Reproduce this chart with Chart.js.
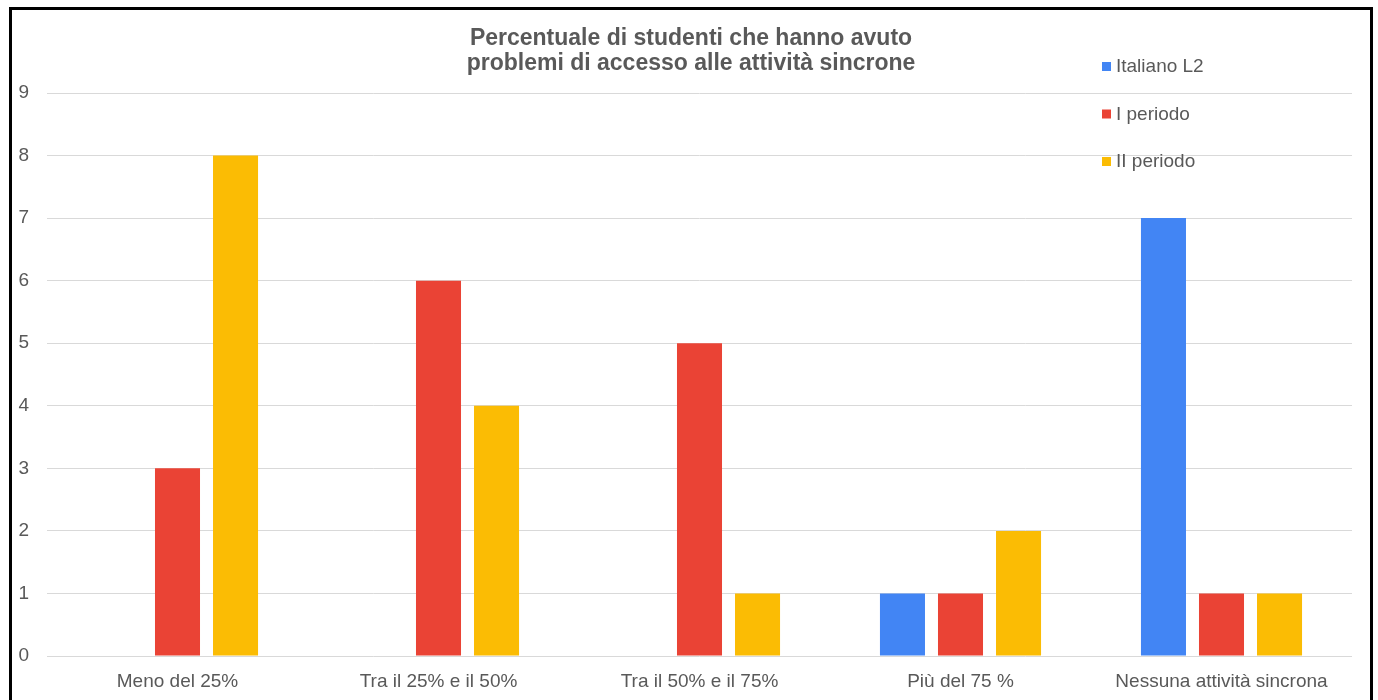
<!DOCTYPE html>
<html>
<head>
<meta charset="utf-8">
<script src="https://cdn.jsdelivr.net/npm/chart.js@4/dist/chart.umd.min.js"></script>
<style>
  html, body { margin: 0; padding: 0; background: #fff; overflow: hidden; }
  #wrap { position: relative; width: 1378px; height: 700px; }
  #frame {
    position: absolute; left: 9px; top: 7px; width: 1364px; height: 800px;
    box-sizing: border-box; border: 3px solid #000; pointer-events: none;
  }
  canvas { position: absolute; left: 0; top: 0; }
</style>
</head>
<body>
<div id="wrap">
  <canvas id="c" width="1378" height="700"></canvas>
  <div id="frame"></div>
</div>
<script>
const categories = ["Meno del 25%", "Tra il 25% e il 50%", "Tra il 50% e il 75%", "Più del 75 %", "Nessuna attività sincrona"];
const seriesNames = ["Italiano L2", "I periodo", "II periodo"];
const italianoL2 = [0, 0, 0, 1, 7];
const primoPeriodo = [3, 6, 5, 1, 1];
const secondoPeriodo = [8, 4, 1, 2, 1];
const seriesColors = ["#4285F4", "#EA4335", "#FBBC04"];
const titleLines = ["Percentuale di studenti che hanno avuto", "problemi di accesso alle attività sincrone"];

const textGray = "#595959";
const font = "'Liberation Sans', Arial, sans-serif";

// Two-line title centred on the whole frame
const frameTitle = {
  id: "frameTitle",
  afterDraw(chart) {
    const ctx = chart.ctx;
    ctx.save();
    ctx.font = "bold 23px " + font;
    ctx.fillStyle = textGray;
    ctx.textAlign = "center";
    ctx.textBaseline = "middle";
    titleLines.forEach((line, i) => ctx.fillText(line, 691, 38.6 + i * 25.3));
    ctx.restore();
  }
};

// Vertical legend drawn over the top-right of the plot
const sideLegend = {
  id: "sideLegend",
  afterDraw(chart) {
    const ctx = chart.ctx;
    ctx.save();
    ctx.font = "19px " + font;
    ctx.textBaseline = "middle";
    ctx.textAlign = "left";
    chart.data.datasets.forEach((ds, i) => {
      const y = 67 + i * 47.5;
      ctx.fillStyle = ds.backgroundColor;
      ctx.fillRect(1102, y - 5, 9, 9);
      ctx.fillStyle = textGray;
      ctx.fillText(ds.label, 1116, y);
    });
    ctx.restore();
  }
};

const values = [italianoL2, primoPeriodo, secondoPeriodo];

new Chart(document.getElementById("c"), {
  type: "bar",
  data: {
    labels: categories,
    datasets: seriesNames.map((name, i) => ({
      label: name,
      data: values[i],
      backgroundColor: seriesColors[i],
      borderWidth: 0,
      categoryPercentage: 0.667,
      barPercentage: 0.776
    }))
  },
  options: {
    responsive: false,
    animation: false,
    layout: { padding: { left: 0, right: 26, top: 93, bottom: 0 } },
    plugins: {
      legend: { display: false },
      tooltip: { enabled: false },
      title: { display: false }
    },
    scales: {
      x: {
        grid: { display: false, drawTicks: false },
        border: { display: false },
        ticks: { color: textGray, font: { family: font, size: 19 }, padding: 14, maxRotation: 0 },
        afterFit(s) { s.height = 44; }
      },
      y: {
        min: 0, max: 9,
        grid: { color: "#d9d9d9", lineWidth: 1, drawTicks: false },
        border: { display: false },
        ticks: { stepSize: 1, color: textGray, font: { family: font, size: 19 }, padding: 18 },
        afterFit(s) { s.width = 47; }
      }
    }
  },
  plugins: [frameTitle, sideLegend]
});
</script>
</body>
</html>
